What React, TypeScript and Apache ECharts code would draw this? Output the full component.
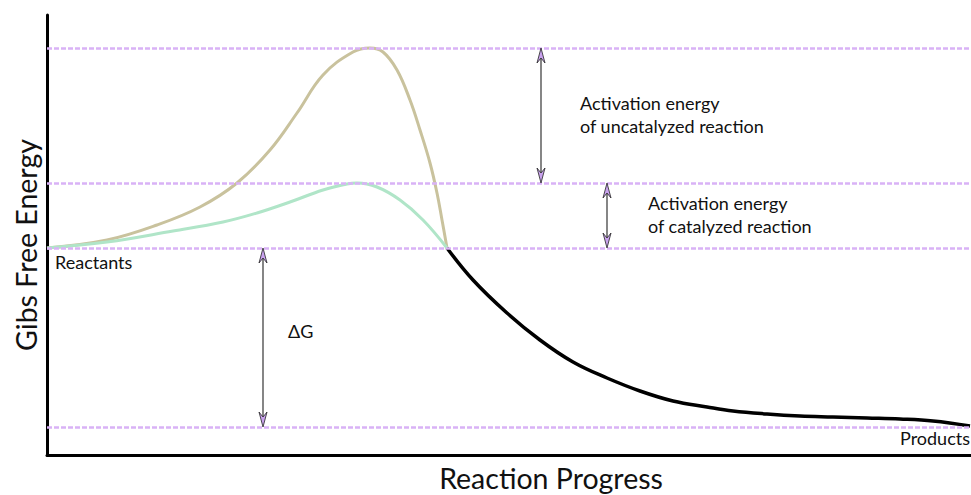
import React, { useEffect, useRef } from "react";
import * as echarts from "echarts";

// Energy levels (arbitrary energy units, products = 0)
const levelUncatalyzedTS = 379;
const levelCatalyzedTS = 244;
const levelReactants = 179;
const levelProducts = 0;
const levels = [levelUncatalyzedTS, levelCatalyzedTS, levelReactants, levelProducts];

// Reaction progress range
const progressMax = 924;
const energyMin = -28;
const energyMax = 412;

// Uncatalyzed path [progress, energy]
const uncatalyzed: [number, number][] = [
  [0, 179], [60, 187], [110, 202], [153, 220], [190, 244], [223, 277],
  [250, 314], [276, 352], [306, 375], [323, 379], [336, 375], [350, 357],
  [363, 327], [373, 297], [383, 264], [390, 234], [395, 207], [400, 179],
];

// Catalyzed path
const catalyzed: [number, number][] = [
  [0, 179], [60, 185], [126, 196], [176, 205], [210, 214], [243, 225],
  [276, 237], [300, 243], [310, 244], [330, 240], [353, 227], [376, 207],
  [400, 179],
];

// Shared descent to products
const toProducts: [number, number][] = [
  [400, 179], [426, 147], [460, 114], [493, 87], [526, 65], [560, 49],
  [593, 36], [626, 26], [660, 20], [686, 16], [720, 13], [753, 11],
  [786, 10], [820, 9], [853, 8], [886, 6], [923, 1],
];

// Double-headed arrows [progress, energyTop, energyBottom]
const arrows: [number, number, number][] = [
  [494, levelUncatalyzedTS, levelCatalyzedTS],
  [560, levelCatalyzedTS, levelReactants],
  [216, levelReactants, levelProducts],
];

const FONT = "Lato";
const LABEL_FONT = `18px ${FONT}`;
const TITLE_FONT = `28.5px ${FONT}`;

export default function App() {
  const ref = useRef<HTMLDivElement>(null);
  useEffect(() => {
    if (!ref.current) return;
    const chart = echarts.init(ref.current, null, { renderer: "svg" });
    const arrowHead = (tx: number, ty: number, dir: number) => ({
      type: "polygon",
      shape: {
        points: [
          [tx, ty],
          [tx - 4, ty + dir * 15],
          [tx, ty + dir * 10],
          [tx + 4, ty + dir * 15],
        ],
      },
      style: { fill: "#c9a2ee", stroke: "#222", lineWidth: 0.8 },
    });
    chart.setOption({
      animation: false,
      grid: { left: 47, right: 0, top: 15, bottom: 40 },
      xAxis: {
        type: "value",
        min: 0,
        max: progressMax,
        axisLine: { show: true, onZero: false, lineStyle: { color: "#000", width: 3 } },
        axisTick: { show: false },
        axisLabel: { show: false },
        splitLine: { show: false },
      },
      yAxis: {
        type: "value",
        min: energyMin,
        max: energyMax,
        axisLine: { show: true, onZero: false, lineStyle: { color: "#000", width: 3 } },
        axisTick: { show: false },
        axisLabel: { show: false },
        splitLine: { show: false },
      },
      series: [
        {
          type: "line",
          data: [],
          z: 1,
          markLine: {
            silent: true,
            symbol: "none",
            label: { show: false },
            lineStyle: { color: "#d9b2f6", width: 2.5, type: [5, 2] },
            data: levels.map((v) => ({ yAxis: v })),
          },
        },
        {
          name: "Uncatalyzed",
          type: "line",
          data: uncatalyzed,
          smooth: 0.4,
          showSymbol: false,
          z: 3,
          lineStyle: { color: "#c9c29d", width: 3 },
        },
        {
          name: "Catalyzed",
          type: "line",
          data: catalyzed,
          smooth: 0.4,
          showSymbol: false,
          z: 3,
          lineStyle: { color: "#b0e5c8", width: 3 },
        },
        {
          name: "Products",
          type: "line",
          data: toProducts,
          smooth: 0.4,
          showSymbol: false,
          z: 4,
          lineStyle: { color: "#000", width: 3.5 },
        },
        {
          type: "custom",
          z: 5,
          data: arrows,
          renderItem: (params: any, api: any) => {
            const p1 = api.coord([api.value(0), api.value(1)]);
            const p2 = api.coord([api.value(0), api.value(2)]);
            return {
              type: "group",
              children: [
                {
                  type: "line",
                  shape: { x1: p1[0], y1: p1[1] + 8, x2: p2[0], y2: p2[1] - 8 },
                  style: { stroke: "#444", lineWidth: 1.3 },
                },
                arrowHead(p1[0], p1[1], 1),
                arrowHead(p2[0], p2[1], -1),
              ],
            };
          },
        },
      ],
      graphic: [
        {
          type: "text", x: 551, y: 478,
          style: { text: "Reaction Progress", font: TITLE_FONT, fill: "#111", align: "center", verticalAlign: "middle" },
        },
        {
          type: "text", x: 26, y: 245, rotation: Math.PI / 2,
          style: { text: "Gibs Free Energy", font: TITLE_FONT, fill: "#111", align: "center", verticalAlign: "middle" },
        },
        { type: "text", x: 55, y: 262, style: { text: "Reactants", font: LABEL_FONT, fill: "#111", align: "left", verticalAlign: "middle" } },
        { type: "text", x: 970, y: 438, style: { text: "Products", font: LABEL_FONT, fill: "#111", align: "right", verticalAlign: "middle" } },
        { type: "text", x: 288, y: 331, style: { text: "ΔG", font: LABEL_FONT, fill: "#111", align: "left", verticalAlign: "middle" } },
        {
          type: "text", x: 580, y: 114.5,
          style: { text: "Activation energy\nof uncatalyzed reaction", font: LABEL_FONT, lineHeight: 23, fill: "#111", align: "left", verticalAlign: "middle" },
        },
        {
          type: "text", x: 648, y: 214.5,
          style: { text: "Activation energy\nof catalyzed reaction", font: LABEL_FONT, lineHeight: 23, fill: "#111", align: "left", verticalAlign: "middle" },
        },
      ],
    });
    return () => chart.dispose();
  }, []);
  return <div ref={ref} style={{ width: 971, height: 495, position: "absolute", left: 0, top: 0 }} />;
}
